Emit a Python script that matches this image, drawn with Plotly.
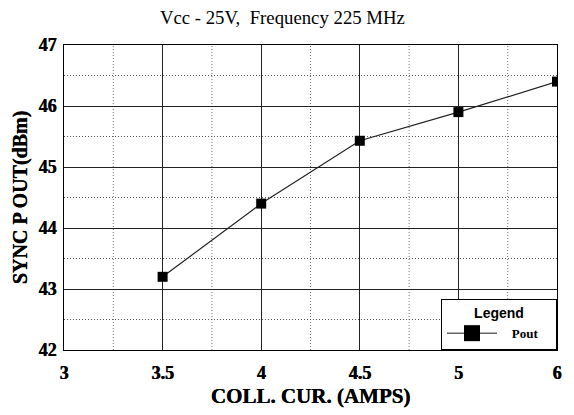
import plotly.graph_objects as go

x_ticks = ["3", "3.5", "4", "4.5", "5", "6"]
x_vals = ["3.5", "4", "4.5", "5", "6"]
pout = [43.2, 44.4, 45.43, 45.9, 46.4]
y_ticks = [42, 43, 44, 45, 46, 47]

fig = go.Figure()
fig.add_trace(go.Scatter(
    x=x_vals, y=pout, mode="lines+markers", name="Pout", showlegend=False,
    line=dict(color="#222222", width=1.2),
    marker=dict(symbol="square", size=10, color="black"),
))
# legend-only entry (larger symbol as in the reference legend)
fig.add_trace(go.Scatter(
    x=[None], y=[None], mode="lines+markers",
    name="&nbsp;&nbsp;&nbsp;<b>Pout</b>&nbsp;&nbsp;&nbsp;&nbsp;",
    line=dict(color="#666666", width=1.5),
    marker=dict(symbol="square", size=16, color="black"),
))

shapes = []
for i in range(len(x_ticks) - 1):
    shapes.append(dict(type="line", xref="x", yref="paper", x0=i + 0.5, x1=i + 0.5, y0=0, y1=1,
                       line=dict(color="#777777", width=1, dash="1px,2px"), layer="below"))
for j in range(len(y_ticks) - 1):
    yv = y_ticks[j] + 0.5
    shapes.append(dict(type="line", xref="paper", yref="y", x0=0, x1=1, y0=yv, y1=yv,
                       line=dict(color="#555555", width=1, dash="1px,2px"), layer="below"))

serif = "Liberation Serif"
tickfont = dict(family=serif, size=18, color="black", weight="bold", shadow="0.6px 0 0 #000")
fig.update_layout(
    width=574, height=415,
    margin=dict(l=64, r=15, t=45, b=64),
    paper_bgcolor="white", plot_bgcolor="white",
    font=dict(family=serif, color="black"),
    title=dict(text="Vcc - 25V,  Frequency 225 MHz", x=0.492, xanchor="center", y=0.959, yanchor="middle",
               font=dict(family=serif, size=18.75, color="black")),
    shapes=shapes,
    showlegend=True,
    legend=dict(
        x=1.0, xanchor="right", y=0.0, yanchor="bottom",
        bgcolor="white", bordercolor="black", borderwidth=1,
        title=dict(text="<b>Legend</b>", side="top center",
                   font=dict(family="Liberation Sans", size=14, color="black")),
        font=dict(family=serif, size=13, color="black"),
        itemwidth=50,
    ),
    xaxis=dict(
        type="category", categoryorder="array", categoryarray=x_ticks,
        tickvals=x_ticks, ticktext=["<b>%s</b>" % t for t in x_ticks], range=[0, len(x_ticks) - 1],
        showgrid=True, gridcolor="#222222", gridwidth=1,
        showline=True, linecolor="black", linewidth=1, mirror=True,
        ticks="", zeroline=False, ticklabelstandoff=6,
        tickfont=tickfont,
        title=dict(text="<b>COLL. CUR. (AMPS)</b>",
                   font=dict(family=serif, size=21, color="black", shadow="0.4px 0 0 #000"), standoff=6),
    ),
    yaxis=dict(
        range=[42, 47], tickvals=y_ticks, ticktext=["<b>%d</b>" % v for v in y_ticks],
        showgrid=True, gridcolor="#222222", gridwidth=1,
        showline=True, linecolor="black", linewidth=1, mirror=True,
        ticks="", zeroline=False, ticklabelstandoff=3,
        tickfont=tickfont,
        title=dict(text="<b>SYNC P OUT(dBm)</b>",
                   font=dict(family=serif, size=20, color="black", shadow="0.4px 0 0 #000"), standoff=5),
    ),
)
fig.write_html("out.html")
